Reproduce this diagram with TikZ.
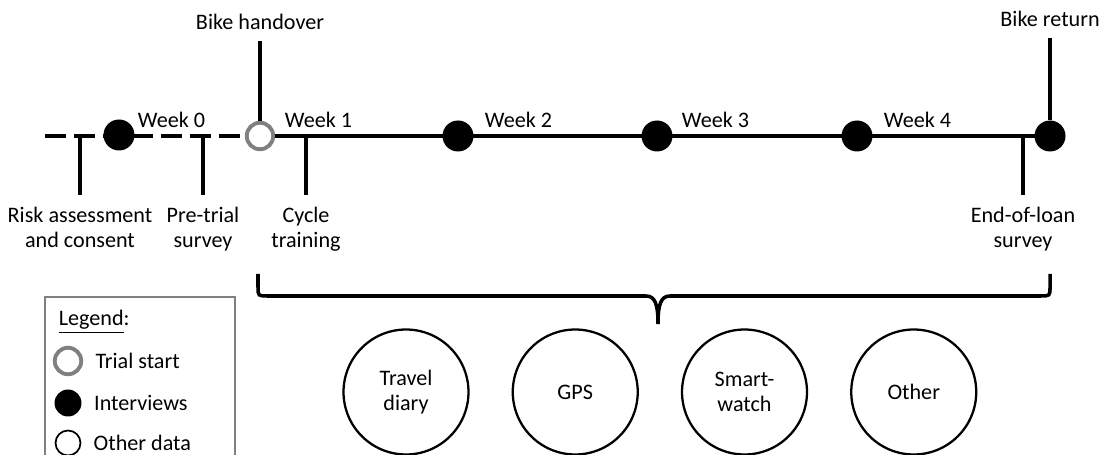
\documentclass[tikz,border=0pt]{standalone}
\usepackage{fontspec}
\setmainfont{Carlito}
\usetikzlibrary{
  positioning,
  calc
}

\tikzset{
  txt/.style={font=\fontsize{12.6}{14.4}\selectfont, align=center, inner sep=2pt},
  lbl/.style={txt, inner ysep=6.5pt},
  dot/.style={circle, fill=black, minimum size=0.62cm, inner sep=0pt},
  startdot/.style={circle, draw=gray, fill=white, line width=2.2pt, minimum size=0.53cm, inner sep=0pt},
  otherdot/.style={circle, draw=black, fill=white, line width=1pt, minimum size=0.5cm, inner sep=0pt},
  datadot/.style={txt, circle, draw, line width=1.3pt, minimum size=2.5cm},
  tick/.style={line width=2pt},
  axis/.style={line width=2.8pt},
  bracestyle/.style={line width=2pt}
}

\begin{document}
\begin{tikzpicture}[x=0.02cm, y=-0.02cm]
    \useasboundingbox (0,0) rectangle (1105,455);

    \coordinate (start) at (45,136);
    \node[dot] (wk0) at (119,135) {};
    \node[startdot] (hand) at (260,136) {};
    \node[dot] (wk2) at (458,136) {};
    \node[dot] (wk3) at (657,136) {};
    \node[dot] (wk4) at (857,136) {};
    \node[dot] (ret) at (1050,136) {};

    \draw[axis, dash pattern=on 12pt off 4.5pt] (start) -- (hand.west);
    \draw[axis] (hand.east) -- (ret.center);

    \node[txt, anchor=base west] (w0lbl) at (134,128) {Week 0};
    \node[txt, anchor=base west] (w1lbl) at (281,128) {Week 1};
    \node[txt, anchor=base west] (w2lbl) at (481,128) {Week 2};
    \node[txt, anchor=base west] (w3lbl) at (678,128) {Week 3};
    \node[txt, anchor=base west] (w4lbl) at (880,128) {Week 4};

    \node[lbl, anchor=south] (handlbl) at (260,41) {Bike handover};
    \node[lbl, anchor=south] (retlbl) at (1050,38) {Bike return};
    \draw[tick] (handlbl.south) -- (hand.north);
    \draw[tick] (retlbl.south) -- (ret.north);

    \coordinate (riskt) at (80,136);
    \coordinate (pret) at (203,136);
    \coordinate (cyclet) at (306,136);
    \coordinate (endt) at (1023,136);
    \node[lbl, anchor=north] (risk) at (80,195) {Risk assessment\\and consent};
    \node[lbl, anchor=north] (pre) at (203,195) {Pre-trial\\survey};
    \node[lbl, anchor=north] (cycle) at (306,195) {Cycle\\training};
    \node[lbl, anchor=north] (endloan) at (1023,195) {End-of-loan\\survey};
    \draw[tick] (riskt) -- (risk.north);
    \draw[tick] (pret) -- (pre.north);
    \draw[tick] (cyclet) -- (cycle.north);
    \draw[tick] (endt) -- (endloan.north);

    \coordinate (bracel) at (258,274);
    \coordinate (bracer) at (1050,274);
    \coordinate (tip) at (658,324);
    \draw[bracestyle] (bracel) -- (258,287) .. controls (258,296) .. (268,296)
      -- (646,296) .. controls (655,296) and (658,304) .. (tip)
      .. controls (658,304) and (661,296) .. (670,296)
      -- (1040,296) .. controls (1050,296) .. (1050,287) -- (bracer);

    \node[datadot] (diary) at (406,392) {Travel\\diary};
    \node[datadot, right=0.84cm of diary] (gps) {GPS};
    \node[datadot, right=0.84cm of gps] (watch) {Smart-\\watch};
    \node[datadot, right=0.84cm of watch] (other) {Other};

    \draw[gray, line width=0.7pt] (45,297) rectangle (235,475);
    \node[txt, anchor=base west] (legend) at (55,326) {\underline{Legend}:};
    \node[startdot] (lstart) at (68,361) {};
    \node[dot, minimum size=0.54cm] (linter) at (68,403) {};
    \node[otherdot] (lother) at (68,443) {};
    \node[txt, right=0.17cm of lstart] (lstartlbl) {Trial start};
    \node[txt, right=0.17cm of linter] (linterlbl) {Interviews};
    \node[txt, right=0.17cm of lother] (lotherlbl) {Other data};
\end{tikzpicture}
\end{document}
